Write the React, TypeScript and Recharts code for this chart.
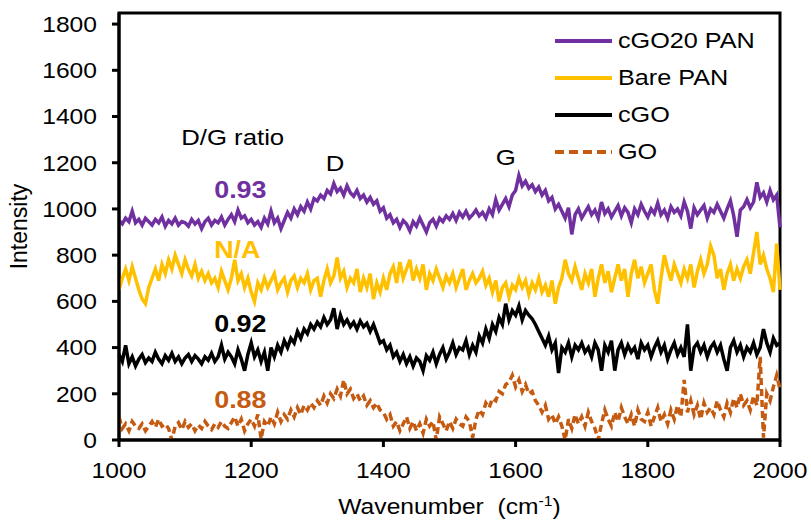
import React from 'react';
import { LineChart, Line, XAxis, YAxis, ReferenceArea, ReferenceDot } from 'recharts';

const FONT = '"Liberation Sans", Arial, sans-serif';
// the source figure is slightly stretched sideways, so text is too
const STRETCH = 1.12;

// spectra sampled every 5 cm-1 from 1000 to 2000
const WN_START = 1000;
const WN_STEP = 5;

const xTicks = [1000, 1200, 1400, 1600, 1800, 2000];
const yTicks = [0, 200, 400, 600, 800, 1000, 1200, 1400, 1600, 1800];

const cgo20Pan = [
  950, 935, 960, 945, 990, 940, 955, 930, 960, 945, 930, 955, 940, 965, 925, 950, 935, 960, 930, 945,
  940, 925, 955, 935, 950, 915, 945, 960, 930, 950, 940, 965, 930, 955, 975, 945, 995, 960, 970, 940,
  955, 930, 945, 920, 960, 935, 990, 940, 960, 915, 950, 985, 960, 1000, 975, 1010, 990, 1030, 1000, 1045,
  1035, 1060, 1045, 1080, 1065, 1110, 1075, 1090, 1060, 1100, 1070, 1055, 1080, 1045, 1060, 1030, 1050, 1020, 1035, 990,
  1005, 960, 975, 940, 955, 920, 950, 935, 905, 945, 925, 960, 930, 900, 940, 955, 925, 960, 945, 970,
  955, 980, 950, 985, 965, 990, 960, 975, 995, 970, 985, 960, 1000, 975, 1040, 995, 1020, 1045, 1010, 1060,
  1080, 1145, 1100, 1120, 1090, 1105, 1075, 1095, 1060, 1080, 1035, 1050, 1000, 1020, 990, 960, 1005, 890, 975, 1000,
  960, 985, 1010, 975, 995, 960, 1030, 980, 1000, 965, 990, 1015, 970, 1005, 985, 940, 1000, 975, 1020, 990,
  965, 1000, 980, 1025, 975, 995, 960, 1010, 985, 1000, 970, 1030, 990, 915, 1005, 975, 995, 1015, 960, 1000,
  985, 1020, 990, 960, 1000, 1035, 970, 880, 995, 1010, 1040, 1005, 1030, 1115, 1050, 1070, 1030, 1080, 1040, 1060,
  920,
];

const barePan = [
  650, 700, 740, 690, 750, 700, 650, 610, 590, 660, 700, 740, 690, 760, 720, 780, 740, 800, 760, 720,
  780, 740, 710, 760, 700, 730, 690, 720, 680, 700, 660, 730, 690, 650, 700, 780, 690, 720, 660, 700,
  640, 600, 680, 650, 700, 660, 690, 720, 650, 680, 700, 640, 690, 710, 660, 700, 680, 720, 650, 690,
  700, 620, 690, 740, 680, 710, 790, 700, 730, 660, 700, 680, 740, 640, 700, 660, 720, 610, 680, 640,
  700, 650, 720, 750, 680, 770, 700, 740, 780, 690, 740, 700, 760, 650, 720, 690, 740, 700, 660, 710,
  680, 720, 660, 700, 740, 650, 690, 720, 680, 700, 730, 670, 700, 640, 690, 600, 660, 680, 620, 670,
  650, 700, 660, 690, 630, 680, 650, 700, 640, 670, 620, 690, 590, 660, 700, 780, 720, 690, 750, 700,
  650, 720, 680, 740, 620, 700, 760, 680, 730, 640, 700, 760, 690, 740, 620, 720, 780, 700, 750, 680,
  720, 760, 650, 590, 700, 800, 740, 690, 760, 720, 680, 740, 700, 760, 660, 730, 780, 720, 760, 840,
  800, 700, 740, 650, 720, 760, 690, 740, 700, 750, 780, 720, 810, 900, 760, 800, 740, 700, 640, 850,
  650,
];

const cgo = [
  370, 340, 410, 330, 360, 320, 350, 370, 335, 355, 340, 380, 350, 330, 365, 345, 375, 340, 360, 330,
  355, 370, 340, 365, 350, 330, 360, 345, 375, 340, 360, 410, 350, 380, 360, 330, 390, 350, 300, 370,
  420, 360, 390, 340, 380, 300, 400, 360, 410, 380, 430, 400, 440, 420, 470, 440, 480, 460, 500, 480,
  510, 490, 530, 500, 520, 570, 480, 540, 500, 520, 490, 510, 480, 515, 490, 505, 470, 500, 460, 420,
  430, 390, 410, 360, 380, 340, 370, 330, 360, 320, 355, 340, 300, 365, 345, 380, 330, 370, 400, 350,
  380, 420, 370, 400, 390, 430, 370, 410, 380, 450, 420, 480, 440, 500, 470, 530, 500, 590, 520, 560,
  540, 580, 520, 560, 540, 525, 500, 470, 440, 410, 450, 390, 420, 290, 400, 380, 420, 360, 410, 390,
  420, 380, 400, 360, 420, 390, 300, 410, 380, 430, 300, 390, 420, 370, 410, 380, 400, 350, 420, 390,
  410, 360, 400, 430, 380, 410, 350, 390, 420, 370, 400, 360, 500, 300, 400, 420, 380, 410, 360, 400,
  420, 380, 410, 350, 300, 400, 430, 380, 410, 360, 400, 380, 420, 370, 400, 480, 420, 380, 440, 410,
  420,
];

const go = [
  100, 50, 70, 40, 80, 60, 50, 70, 40, 60, 80, 55, 90, 60, 70, 50, 0, 60, 75, 45,
  80, 55, 70, 40, 65, 50, 80, 60, 45, 70, 55, 80, 60, 50, 75, 100, 60, 90, 40, 70,
  90, 60, 110, 5, 80, 60, 100, 70, 120, 80, 110, 90, 130, 100, 140, 110, 150, 130, 160, 140,
  170, 150, 190, 160, 200, 180, 220, 190, 260, 200, 220, 180, 200, 170, 190, 150, 170, 140, 160, 130,
  120, 90, 110, 60, 80, 40, 70, 100, 50, 80, 40, 70, 30, 90, 60, 80, 0, 100, 70, 40,
  80, 50, 90, 70, 60, 100, 80, 10, 90, 130, 110, 160, 140, 180, 170, 210, 200, 240, 250, 280,
  230, 260, 210, 240, 200, 210, 170, 150, 120, 150, 90, 110, 70, 100, 60, 0, 90, 50, 110, 70,
  100, 60, 120, 80, 50, 0, 70, 130, 90, 60, 120, 80, 140, 100, 70, 110, 60, 130, 90, 80,
  120, 60, 100, 140, 80, 110, 70, 130, 90, 150, 100, 260, 120, 170, 110, 150, 90, 160, 120, 140,
  110, 170, 130, 100, 160, 120, 180, 140, 200, 150, 170, 130, 190, 150, 360, 10, 200, 170, 230, 280,
  220,
];

const seriesInfo = [
  { key: 'cgo20Pan', name: 'cGO20 PAN', color: '#7030A0', dash: undefined },
  { key: 'barePan', name: 'Bare PAN', color: '#FFC000', dash: undefined },
  { key: 'cgo', name: 'cGO', color: '#000000', dash: undefined },
  { key: 'go', name: 'GO', color: '#C55A11', dash: '7 4' },
];

const ratioLabels = [
  { text: '0.93', y: 1082, color: '#7030A0' },
  { text: 'N/A', y: 826, color: '#FFC000' },
  { text: '0.92', y: 502, color: '#000000' },
  { text: '0.88', y: 177, color: '#C55A11' },
];

const peakLabels = [
  { text: 'D/G ratio', x: 1172, y: 1311 },
  { text: 'D', x: 1327, y: 1199 },
  { text: 'G', x: 1585, y: 1225 },
];

const data = cgo20Pan.map((v, i) => ({
  wn: WN_START + i * WN_STEP,
  cgo20Pan: v,
  barePan: barePan[i],
  cgo: cgo[i],
  go: go[i],
}));

const axisStyle = { stroke: '#000', strokeWidth: 3 };

const XTick = ({ x, y, payload }: any) => (
  <text transform={`translate(${x},${y}) scale(${STRETCH},1)`} textAnchor="middle" dy="0.71em"
    fontSize={22} fontFamily={FONT} fill="#000">{payload.value}</text>
);

const YTick = ({ x, y, payload }: any) => (
  <text transform={`translate(${x},${y}) scale(${STRETCH},1)`} textAnchor="end" dy="0.355em"
    fontSize={22} fontFamily={FONT} fill="#000">{payload.value}</text>
);

const YTitle = ({ viewBox }: any) => {
  const cx = viewBox.x + 19;
  const cy = viewBox.y + viewBox.height / 2;
  return (
    <text x={cx} y={cy} transform={`rotate(-90 ${cx} ${cy})`} textAnchor="middle" dominantBaseline="central"
      fontSize={23} fontFamily={FONT} fill="#000">Intensity</text>
  );
};

const XTitle = ({ viewBox }: any) => (
  <text transform={`translate(${viewBox.x + viewBox.width / 2},${viewBox.y + 74}) scale(${STRETCH},1)`}
    textAnchor="middle" fontSize={22} fontFamily={FONT} fill="#000">
    Wavenumber{'\u00a0\u00a0'}(cm<tspan dy={-8} fontSize={14}>-1</tspan><tspan dy={8}>)</tspan>
  </text>
);

const stretchedLabel = (text: string, size: number, color: string, weight: string, anchor: string) =>
  ({ viewBox }: any) => (
    <text transform={`translate(${viewBox.x},${viewBox.y}) scale(${STRETCH},1)`} textAnchor={anchor}
      dominantBaseline="central" fontSize={size} fontWeight={weight} fontFamily={FONT} fill={color}>{text}</text>
  );

export default function App() {
  return (
    <div style={{ position: 'absolute', left: 0, top: 0, width: 811, height: 522, background: '#fff' }}>
      <LineChart width={811} height={522} data={data} margin={{ top: 13, right: 31, bottom: 0, left: 0 }}>
        <XAxis dataKey="wn" type="number" domain={[1000, 2000]} ticks={xTicks} height={82}
          axisLine={axisStyle} tickLine={axisStyle} tickSize={7} tickMargin={15} tick={<XTick />}
          label={<XTitle />} />
        <YAxis type="number" domain={[0, 1848]} ticks={yTicks} width={119} allowDataOverflow
          axisLine={axisStyle} tickLine={axisStyle} tickSize={7} tickMargin={15} tick={<YTick />}
          label={<YTitle />} />
        <ReferenceArea x1={1000} x2={2000} y1={0} y2={1848} fill="none" stroke="#000" strokeWidth={3} />
        {seriesInfo.map((s) => (
          <Line key={s.key} type="linear" dataKey={s.key} name={s.name} stroke={s.color} strokeWidth={3.5}
            strokeDasharray={s.dash} dot={false} activeDot={false} isAnimationActive={false} />
        ))}
        {peakLabels.map((p) => (
          <ReferenceDot key={p.text} x={p.x} y={p.y} r={0} fill="none" stroke="none"
            label={{ content: stretchedLabel(p.text, 23, '#000', 'normal', 'middle') }} />
        ))}
        {ratioLabels.map((r) => (
          <ReferenceDot key={r.text} x={1144} y={r.y} r={0} fill="none" stroke="none"
            label={{ content: stretchedLabel(r.text, 24, r.color, 'bold', 'start') }} />
        ))}
      </LineChart>
      <div style={{ position: 'absolute', left: 555, top: 22, fontFamily: FONT, fontSize: 22.5, color: '#000' }}>
        {seriesInfo.map((s) => (
          <div key={s.key} style={{ display: 'flex', alignItems: 'center', height: 37 }}>
            <svg width={58} height={8} style={{ display: 'block' }}>
              <line x1={0} y1={4} x2={57} y2={4} stroke={s.color} strokeWidth={4} strokeDasharray={s.dash ? '9 5' : undefined} />
            </svg>
            <span style={{ marginLeft: 5, lineHeight: '37px', display: 'inline-block', whiteSpace: 'nowrap',
              transform: `scaleX(${STRETCH})`, transformOrigin: 'left center' }}>{s.name}</span>
          </div>
        ))}
      </div>
    </div>
  );
}
